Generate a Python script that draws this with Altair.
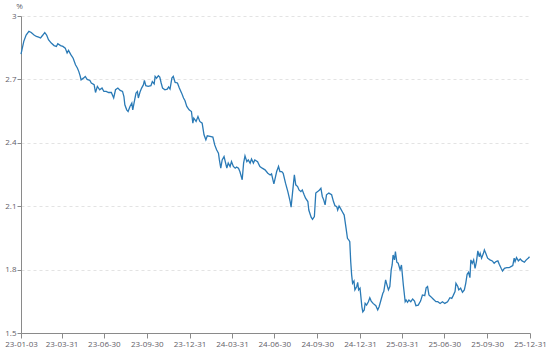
import altair as alt
import pandas as pd

BASE_DATE = "2023-01-03"

day_offset = [
    0, 2, 6, 11, 17, 22, 28, 33, 38, 42, 47, 51, 55, 59, 65, 71, 76, 79, 85, 90,
    95, 99, 102, 107, 112, 117, 121, 124, 127, 129, 134, 138, 142, 148, 151, 157, 160, 164, 169, 174,
    178, 183, 188, 194, 199, 203, 208, 213, 218, 221, 223, 227, 230, 234, 238, 240, 243, 247, 250, 252,
    256, 259, 263, 265, 268, 273, 279, 282, 286, 288, 291, 295, 298, 301, 304, 309, 314, 317, 320, 324,
    327, 331, 336, 340, 345, 349, 352, 356, 361, 366, 369, 371, 376, 380, 384, 389, 393, 397, 400, 406,
    412, 416, 420, 424, 426, 429, 432, 436, 442, 445, 449, 452, 456, 460, 463, 467, 470, 475, 478, 481,
    485, 488, 492, 495, 499, 502, 508, 513, 518, 524, 530, 535, 538, 543, 545, 549, 553, 556, 560, 563,
    568, 573, 578, 580, 583, 587, 590, 594, 597, 601, 604, 608, 611, 616, 618, 623, 626, 630, 633, 637,
    641, 644, 647, 650, 653, 656, 661, 667, 671, 674, 678, 680, 683, 686, 690, 694, 696, 698, 701, 704,
    706, 708, 710, 712, 715, 717, 721, 723, 725, 728, 732, 734, 737, 739, 742, 746, 749, 752, 756, 762,
    766, 769, 773, 777, 779, 783, 785, 789, 792, 795, 797, 799, 802, 804, 807, 810, 814, 817, 821, 825,
    827, 830, 833, 837, 841, 845, 848, 853, 858, 862, 867, 870, 873, 876, 880, 885, 891, 895, 900, 905,
    910, 916, 921, 925, 928, 932, 934, 938, 940, 944, 948, 952, 955, 958, 961, 964, 966, 969, 972, 975,
    978, 981, 984, 986, 989, 993, 995, 998, 1002, 1007, 1012, 1016, 1020, 1024, 1027, 1031, 1034, 1038, 1043, 1048,
    1052, 1056, 1059, 1061, 1064, 1068, 1072, 1076, 1081, 1085, 1089, 1092,
]

yield_pct = [
    2.82, 2.84, 2.88, 2.91, 2.927, 2.922, 2.91, 2.903, 2.90, 2.896, 2.91, 2.922, 2.91, 2.888, 2.872, 2.86, 2.856, 2.869, 2.86, 2.856,
    2.848, 2.825, 2.837, 2.817, 2.80, 2.769, 2.754, 2.738, 2.717, 2.698, 2.706, 2.714, 2.70, 2.695, 2.683, 2.675, 2.638, 2.667, 2.651, 2.659,
    2.643, 2.643, 2.638, 2.638, 2.612, 2.651, 2.659, 2.648, 2.643, 2.619, 2.58, 2.556, 2.548, 2.572, 2.588, 2.556, 2.591, 2.635, 2.643, 2.612,
    2.643, 2.659, 2.675, 2.695, 2.67, 2.667, 2.67, 2.69, 2.679, 2.714, 2.706, 2.717, 2.711, 2.683, 2.659, 2.651, 2.654, 2.664, 2.654, 2.706,
    2.714, 2.686, 2.683, 2.659, 2.635, 2.612, 2.60, 2.572, 2.556, 2.548, 2.493, 2.517, 2.501, 2.524, 2.501, 2.493, 2.438, 2.414, 2.433, 2.43,
    2.427, 2.39, 2.367, 2.351, 2.319, 2.28, 2.319, 2.335, 2.28, 2.304, 2.288, 2.311, 2.288, 2.28, 2.285, 2.28, 2.264, 2.225, 2.304, 2.338,
    2.311, 2.319, 2.304, 2.323, 2.304, 2.319, 2.311, 2.288, 2.28, 2.272, 2.256, 2.248, 2.253, 2.206, 2.225, 2.264, 2.288, 2.264, 2.264, 2.256,
    2.209, 2.169, 2.122, 2.095, 2.162, 2.248, 2.201, 2.193, 2.177, 2.169, 2.177, 2.154, 2.138, 2.122, 2.082, 2.048, 2.038, 2.051, 2.162, 2.169,
    2.177, 2.185, 2.146, 2.13, 2.106, 2.154, 2.162, 2.154, 2.122, 2.103, 2.098, 2.082, 2.101, 2.09, 2.074, 2.058, 2.027, 1.996, 1.948, 1.94,
    1.932, 1.838, 1.775, 1.735, 1.746, 1.704, 1.72, 1.74, 1.704, 1.712, 1.624, 1.60, 1.609, 1.64, 1.632, 1.648, 1.667, 1.651, 1.64, 1.629,
    1.609, 1.624, 1.656, 1.688, 1.696, 1.751, 1.735, 1.704, 1.72, 1.80, 1.822, 1.869, 1.846, 1.885, 1.835, 1.83, 1.80, 1.822, 1.727, 1.648,
    1.656, 1.645, 1.656, 1.648, 1.661, 1.651, 1.629, 1.632, 1.651, 1.68, 1.677, 1.714, 1.72, 1.68, 1.672, 1.661, 1.648, 1.648, 1.64, 1.648,
    1.64, 1.648, 1.667, 1.664, 1.677, 1.696, 1.735, 1.72, 1.704, 1.712, 1.693, 1.704, 1.735, 1.778, 1.787, 1.762, 1.846, 1.83, 1.846, 1.806,
    1.838, 1.889, 1.861, 1.877, 1.854, 1.877, 1.893, 1.877, 1.854, 1.846, 1.841, 1.83, 1.838, 1.841, 1.825, 1.806, 1.793, 1.806, 1.809, 1.809,
    1.814, 1.819, 1.854, 1.838, 1.857, 1.841, 1.85, 1.841, 1.835, 1.846, 1.854, 1.861,
]

x_tick_dates = [
    (2023, 1, 3), (2023, 3, 31), (2023, 6, 30), (2023, 9, 30), (2023, 12, 31),
    (2024, 3, 31), (2024, 6, 30), (2024, 9, 30), (2024, 12, 31),
    (2025, 3, 31), (2025, 6, 30), (2025, 9, 30), (2025, 12, 31),
]
y_ticks = [1.5, 1.8, 2.1, 2.4, 2.7, 3.0]

df = pd.DataFrame({
    "date": pd.to_datetime(BASE_DATE) + pd.to_timedelta(day_offset, unit="D"),
    "value": yield_pct,
})

FONT = "Open Sans"
LABEL_COLOR = "#5f6068"
AXIS_COLOR = "#8a8a8a"

chart = alt.Chart(df).mark_line(color="#2a7ab6", strokeWidth=1.3).encode(
    x=alt.X(
        "date:T",
        scale=alt.Scale(domain=[alt.DateTime(year=2023, month=1, date=3),
                                alt.DateTime(year=2025, month=12, date=31)]),
        axis=alt.Axis(
            values=[alt.DateTime(year=y, month=m, date=d) for (y, m, d) in x_tick_dates],
            format="%y-%m-%d", title=None, grid=False,
            domainColor=AXIS_COLOR, tickColor=AXIS_COLOR, tickSize=5,
            labelColor=LABEL_COLOR, labelFont=FONT, labelFontSize=8,
            labelPadding=2, labelFlush=False, labelOverlap=False,
        ),
    ),
    y=alt.Y(
        "value:Q",
        scale=alt.Scale(domain=[1.5, 3.0], nice=False, zero=False),
        axis=alt.Axis(
            values=y_ticks, format="~g", title="%",
            titleAngle=0, titleX=-2, titleY=-10, titleAlign="center", titleBaseline="middle",
            titleFont=FONT, titleFontSize=8, titleFontWeight="normal", titleColor=LABEL_COLOR,
            grid=True, gridColor="#e3e3e3", gridDash=[3, 3], gridWidth=1,
            domainColor=AXIS_COLOR, tickColor=AXIS_COLOR, tickSize=4,
            labelColor=LABEL_COLOR, labelFont=FONT, labelFontSize=8, labelPadding=1,
        ),
    ),
).properties(
    width=509,
    height=317,
    autosize=alt.AutoSizeParams(type="none"),
    padding={"left": 21, "top": 16, "right": 20, "bottom": 16},
).configure_view(stroke=None)

chart.save("out.html", embed_options={"renderer": "svg", "actions": False})
